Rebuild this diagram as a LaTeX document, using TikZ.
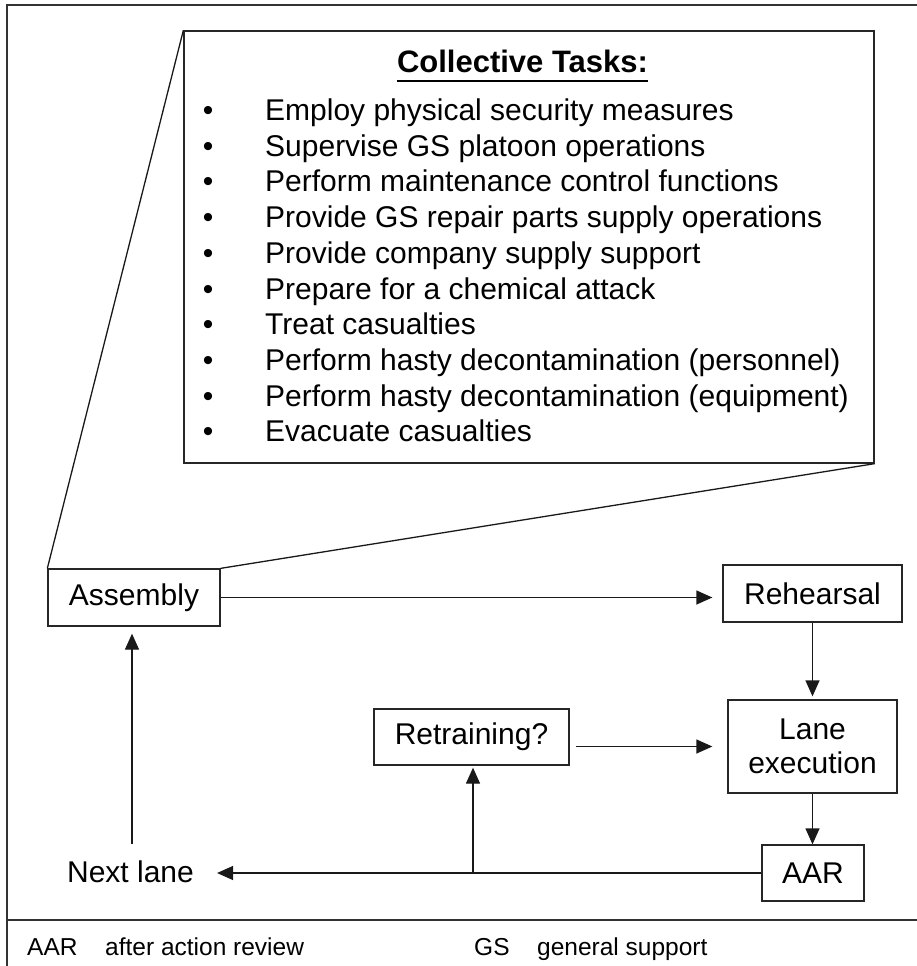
\documentclass[tikz,border=0pt]{standalone}
\usepackage{fontspec}
\setmainfont{Liberation Sans}
\usetikzlibrary{arrows.meta}
\tikzset{
  boxnode/.style={draw=black!85, line width=1.3pt, inner sep=0pt, align=center, font=\fontsize{30}{34}\selectfont},
  txtnode/.style={inner sep=0pt, font=\fontsize{30}{34}\selectfont},
  itemtext/.style={inner sep=0pt, anchor=base west, font=\fontsize{30}{34}\selectfont},
  bulletmark/.style={inner sep=0pt, anchor=base, font=\fontsize{30}{34}\selectfont},
  legendtext/.style={inner sep=0pt, anchor=base west, font=\fontsize{24.5}{28}\selectfont},
  conn/.style={draw=black!90, line width=1.3pt},
  arr/.style={conn, -{Triangle[length=16pt,width=14pt]}},
  framel/.style={draw=black!80, line width=2pt}
}
\begin{document}
\begin{tikzpicture}[x=1pt,y=-1pt]
\useasboundingbox (0,0) rectangle (917,966);
% frame
\draw[framel] (919,5) -- (7,5) -- (7,968);
\draw[framel] (7,920) -- (919,920);

% callout box
\node[boxnode, minimum width=690pt, minimum height=432pt] (tasks) at (529,247) {};
\node[inner sep=0pt, anchor=base, font=\fontsize{31}{36}\selectfont\bfseries] (title) at (522.5,72) {Collective Tasks:};
\draw[line width=2pt] ([yshift=-9pt]title.base west) -- ([yshift=-9pt]title.base east);

\foreach \t [count=\i from 0] in {
  Employ physical security measures,
  Supervise GS platoon operations,
  Perform maintenance control functions,
  Provide GS repair parts supply operations,
  Provide company supply support,
  Prepare for a chemical attack,
  Treat casualties,
  Perform hasty decontamination (personnel),
  Perform hasty decontamination (equipment),
  Evacuate casualties}{
  \node[bulletmark] (b\i) at (208,120.5+\i*35.7) {•};
  \node[itemtext] (t\i) at (265,120.5+\i*35.7) {\t};
}

% flow nodes
\node[boxnode, minimum width=172pt, minimum height=57pt] (assembly) at (134,597.5) {Assembly};
\node[boxnode, minimum width=179pt, minimum height=57pt] (rehearsal) at (812.5,593.5) {Rehearsal};
\node[boxnode, minimum width=169pt, minimum height=93pt] (lane) at (812.5,746.5) {Lane\\execution};
\node[boxnode, minimum width=195pt, minimum height=56pt] (retraining) at (471.5,737) {Retraining?};
\node[boxnode, minimum width=102pt, minimum height=56pt] (aar) at (813,873) {AAR};
\node[txtnode] (nextlane) at (130.5,872) {Next lane};
\coordinate (junc) at (473,873);

% callout lines
\draw[conn] (tasks.north west) -- (assembly.north west);
\draw[conn] (tasks.south east) -- (assembly.north east);

% connectors
\draw[arr, shorten >=10pt] (assembly.east) -- (assembly.east -| rehearsal.west);
\draw[arr, shorten >=3pt] (rehearsal.south) -- (rehearsal.south |- lane.north);
\draw[arr, shorten <=6pt, shorten >=15pt] (retraining.east |- lane.west) -- (lane.west);
\draw[arr] (lane.south) -- (lane.south |- aar.north);
\draw[arr, shorten >=23pt] (aar.west) -- (aar.west -| nextlane.east);
\draw[arr, shorten >=2pt] (junc) -- (junc |- retraining.south);
\draw[arr, shorten <=17pt, shorten >=7pt] ([xshift=1.5pt]nextlane.north) -- ([xshift=1.5pt]nextlane.north |- assembly.south);

% legend
\node[legendtext] (l1) at (27,955) {AAR};
\node[legendtext] (l2) at (105,955) {after action review};
\node[legendtext] (l3) at (474,955) {GS};
\node[legendtext] (l4) at (537,955) {general support};
\end{tikzpicture}
\end{document}
